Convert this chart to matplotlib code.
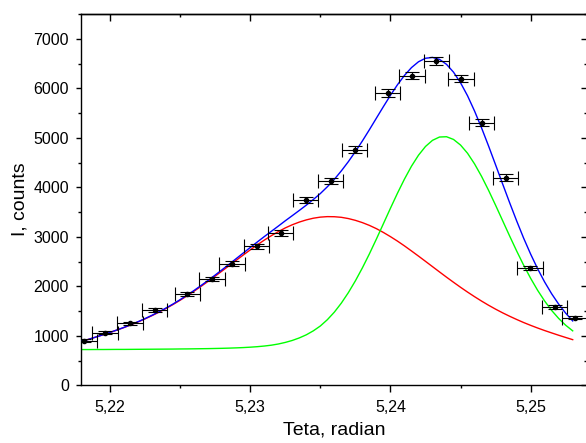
import matplotlib
matplotlib.use("Agg")
import matplotlib.pyplot as plt
from matplotlib.ticker import MultipleLocator, FuncFormatter

plt.rcParams['font.family'] = ['Liberation Sans', 'DejaVu Sans']

# measured points
theta = [5.21815, 5.21964, 5.22143, 5.22319, 5.22551, 5.22727, 5.22870,
         5.23046, 5.23217, 5.23396, 5.23574, 5.23745, 5.23980, 5.24154,
         5.24327, 5.24503, 5.24651, 5.24822, 5.24995, 5.25171, 5.25316]
counts = [903, 1062, 1252, 1525, 1845, 2145, 2458, 2810, 3077, 3752, 4127,
          4762, 5905, 6257, 6545, 6196, 5307, 4196, 2370, 1590, 1368]
counts_err = [30, 33, 35, 39, 43, 46, 50, 53, 55, 61, 64, 69, 77, 79, 81,
              79, 73, 65, 49, 40, 37]
theta_err = 0.0009

# fitted curves
fit_theta = [5.2180, 5.2185, 5.2190, 5.2195, 5.2200, 5.2205, 5.2210, 5.2215,
             5.2220, 5.2225, 5.2230, 5.2235, 5.2240, 5.2245, 5.2250, 5.2255,
             5.2260, 5.2265, 5.2270, 5.2275, 5.2280, 5.2285, 5.2290, 5.2295,
             5.2300, 5.2305, 5.2310, 5.2315, 5.2320, 5.2325, 5.2330, 5.2335,
             5.2340, 5.2345, 5.2350, 5.2355, 5.2360, 5.2365, 5.2370, 5.2375,
             5.2380, 5.2385, 5.2390, 5.2395, 5.2400, 5.2405, 5.2410, 5.2415,
             5.2420, 5.2425, 5.2430, 5.2435, 5.2440, 5.2445, 5.2450, 5.2455,
             5.2460, 5.2465, 5.2470, 5.2475, 5.2480, 5.2485, 5.2490, 5.2495,
             5.2500, 5.2505, 5.2510, 5.2515, 5.2520, 5.2525, 5.2530]
red_peak = [888, 931, 975, 1020, 1067, 1116, 1167, 1222, 1280, 1342, 1408,
            1478, 1553, 1633, 1718, 1808, 1902, 2000, 2101, 2205, 2311, 2418,
            2525, 2631, 2735, 2836, 2932, 3021, 3103, 3179, 3243, 3297, 3341,
            3375, 3397, 3407, 3405, 3393, 3368, 3332, 3286, 3230, 3164, 3087,
            3003, 2913, 2816, 2714, 2610, 2504, 2397, 2290, 2184, 2081, 1980,
            1883, 1790, 1701, 1617, 1538, 1464, 1395, 1330, 1268, 1211, 1157,
            1106, 1058, 1011, 966, 922]
green_peak = [722, 722, 723, 723, 724, 725, 725, 726, 727, 728, 729, 730, 731,
              732, 734, 735, 737, 739, 741, 744, 747, 751, 756, 762, 770, 780,
              793, 810, 834, 866, 906, 957, 1020, 1100, 1198, 1325, 1478, 1661,
              1872, 2110, 2372, 2655, 2955, 3265, 3576, 3879, 4165, 4425, 4647,
              4824, 4948, 5015, 5021, 4966, 4853, 4687, 4472, 4220, 3938, 3637,
              3327, 3017, 2715, 2427, 2161, 1918, 1702, 1512, 1350, 1213, 1100]
total_fit = [888, 931, 976, 1021, 1069, 1119, 1170, 1226, 1285, 1348, 1415,
             1486, 1562, 1643, 1730, 1821, 1917, 2017, 2120, 2227, 2336, 2447,
             2559, 2671, 2783, 2894, 3003, 3109, 3215, 3323, 3427, 3532, 3639,
             3753, 3873, 4010, 4161, 4332, 4518, 4720, 4936, 5163, 5397, 5630,
             5857, 6070, 6259, 6417, 6535, 6606, 6623, 6583, 6483, 6325, 6111,
             5848, 5540, 5199, 4833, 4453, 4069, 3690, 3323, 2973, 2650, 2353,
             2086, 1848, 1639, 1457, 1300]

W, H = 586, 443
fig = plt.figure(figsize=(W / 100, H / 100), dpi=100)
ax = fig.add_axes([81 / W, (H - 385.3) / H, (587 - 81) / W, (385.3 - 14) / H])

ax.plot(fit_theta, red_peak, color='#ff0000', lw=1.0, zorder=2)
ax.plot(fit_theta, green_peak, color='#00ff00', lw=1.0, zorder=2)
ax.plot(fit_theta, total_fit, color='#0000ff', lw=1.0, zorder=3)
ax.errorbar(theta, counts, xerr=theta_err, yerr=counts_err, fmt='o',
            color='black', ms=3.0, elinewidth=0.8, capsize=5.0,
            capthick=0.8, zorder=4)

ax.set_xlim(5.21793, 5.25402)
ax.set_ylim(0, 7500)

ax.xaxis.set_major_locator(MultipleLocator(0.01))
ax.xaxis.set_minor_locator(MultipleLocator(0.005))
ax.yaxis.set_major_locator(MultipleLocator(1000))
ax.yaxis.set_minor_locator(MultipleLocator(500))
ax.xaxis.set_major_formatter(FuncFormatter(lambda v, p: f"{v:.2f}".replace('.', ',')))
ax.yaxis.set_major_formatter(FuncFormatter(lambda v, p: f"{int(round(v))}"))

for s in ax.spines.values():
    s.set_linewidth(1.0)

ax.tick_params(axis='x', which='major', direction='out', length=4.8, width=1.0,
               labelsize=11.5, pad=6.0)
ax.tick_params(axis='x', which='minor', direction='out', length=2.4, width=1.0)
ax.tick_params(axis='y', which='major', direction='out', length=3.8, width=1.0,
               labelsize=11.5, pad=5)
ax.tick_params(axis='y', which='minor', direction='out', length=2.0, width=1.0)

top = ax.secondary_xaxis('top')
top.xaxis.set_major_locator(MultipleLocator(0.01))
top.xaxis.set_minor_locator(MultipleLocator(0.005))
top.tick_params(axis='x', which='major', direction='in', length=4.8, width=1.0,
                labeltop=False)
top.tick_params(axis='x', which='minor', direction='in', length=2.4, width=1.0)
top.spines['top'].set_linewidth(1.0)

right = ax.secondary_yaxis('right')
right.yaxis.set_major_locator(MultipleLocator(1000))
right.yaxis.set_minor_locator(MultipleLocator(500))
right.tick_params(axis='y', which='major', direction='in', length=4.5, width=1.0,
                  labelright=False)
right.tick_params(axis='y', which='minor', direction='in', length=2.2, width=1.0)

ax.set_xlabel('Teta, radian', fontsize=14, labelpad=4.5)
ax.set_ylabel('I, counts', fontsize=14, labelpad=3)

fig.savefig('out.png', dpi=100)
